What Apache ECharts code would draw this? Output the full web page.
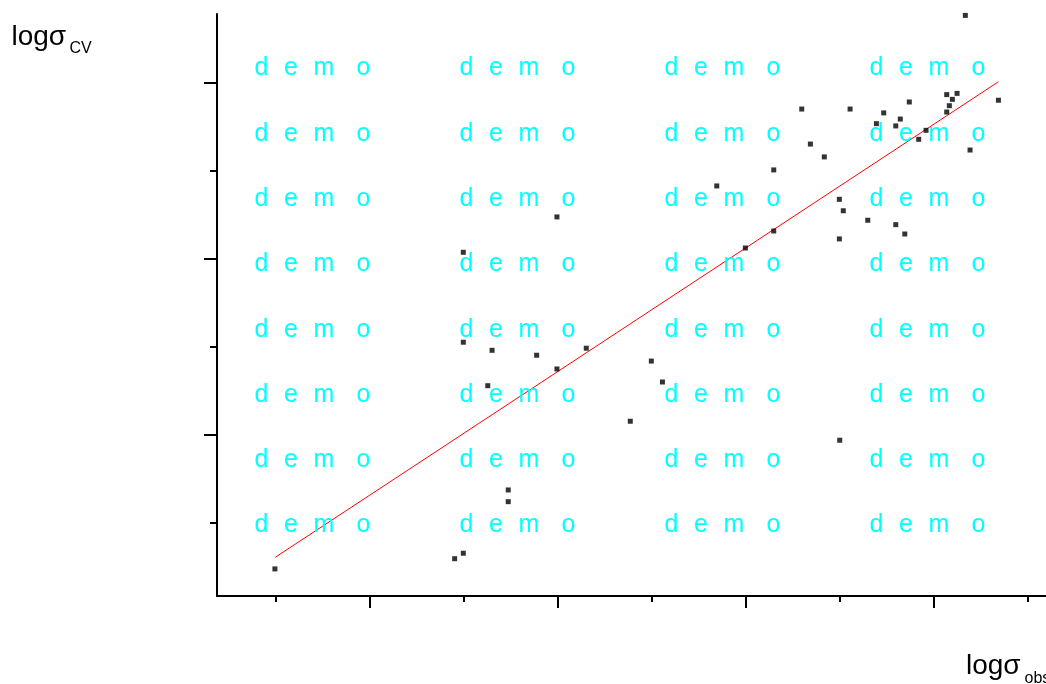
<!DOCTYPE html>
<html>
<head>
<meta charset="utf-8">
<script src="https://cdn.jsdelivr.net/npm/echarts@6/dist/echarts.min.js"></script>
<style>
  html, body { margin: 0; padding: 0; background: #ffffff; }
  #chart { width: 1046px; height: 684px; }
</style>
</head>
<body>
<div id="chart"></div>
<script>
// ---- data ----
var obsX = [-0.502, 0.454, 0.5, 0.739, 0.739, 0.5, 0.5, 0.653, 0.630, 0.890,
            0.998, 1.154, 0.998, 1.388, 1.5, 1.559, 1.848, 2.0, 2.151, 2.151,
            2.3, 2.346, 2.420, 2.5, 2.521, 2.5, 2.502, 2.557, 2.651, 2.697,
            2.736, 2.8, 2.8, 2.824, 2.848, 2.872, 2.922, 2.961, 3.071, 3.071,
            3.085, 3.101, 3.126, 3.170, 3.195, 3.346];
var cvY  = [-0.761, -0.703, -0.672, -0.3125, -0.379, 1.038, 0.527, 0.481, 0.280, 0.453,
            0.375, 0.493, 1.239, 0.078, 0.420, 0.301, 1.415, 1.0625, 1.159, 1.506,
            1.852, 1.653, 1.580, 1.339, 1.274, 1.114, -0.030, 1.852, 1.220, 1.769,
            1.830, 1.195, 1.756, 1.795, 1.142, 1.892, 1.680, 1.731, 1.934, 1.835,
            1.871, 1.907, 1.941, 2.384, 1.619, 1.902];
var fitX = [-0.5, 3.346];
var fitY = [-0.695, 2.007];
var xMajorTicks = [0, 1, 2, 3];
var xMinorTicks = [-0.5, 0.5, 1.5, 2.5, 3.5];
var yMajorTicks = [0, 1, 2];
var yMinorTicks = [-0.5, 0.5, 1.5];
var xRange = [-0.810, 3.599];
var yRange = [-0.915, 2.392];
var watermarkWord = ['d', 'e', 'm', 'o'];

// ---- build ----
var points = obsX.map(function (x, i) { return [x, cvY[i]]; });
var fitLine = fitX.map(function (x, i) { return [x, fitY[i]]; });

var graphics = [];
var letterOffsets = [0, 29.5, 59, 102];
for (var r = 0; r < 8; r++) {
  for (var c = 0; c < 4; c++) {
    for (var k = 0; k < 4; k++) {
      graphics.push({
        type: 'text', z: 100, silent: true,
        x: 254.5 + 205 * c + letterOffsets[k],
        y: 68.5 + 65.3 * r,
        style: {
          text: watermarkWord[k], fill: '#00FFFF',
          font: '25px "Liberation Sans", Arial, sans-serif',
          verticalAlign: 'middle', align: 'left'
        }
      });
    }
  }
}
function label(text, x, y, size) {
  return {
    type: 'text', z: 100, x: x, y: y,
    style: { text: text, fill: '#000000',
      font: size + 'px "Liberation Sans", Arial, sans-serif',
      verticalAlign: 'middle', align: 'left' }
  };
}
graphics.push(label('logσ', 11.5, 37, 28));
graphics.push(label('CV', 69.5, 49, 16));
graphics.push(label('logσ', 966, 666, 28));
graphics.push(label('obs', 1024.5, 678.5, 16));

function xAxisDef(ticks, len, showLine) {
  return {
    type: 'value', position: 'bottom', min: xRange[0], max: xRange[1],
    axisLine: { show: showLine, onZero: false, lineStyle: { color: '#000', width: 2 } },
    axisTick: { show: true, length: len, customValues: ticks, lineStyle: { color: '#000', width: 2 } },
    axisLabel: { show: false },
    splitLine: { show: false }
  };
}
function yAxisDef(ticks, len, showLine) {
  return {
    type: 'value', position: 'left', min: yRange[0], max: yRange[1],
    axisLine: { show: showLine, onZero: false, lineStyle: { color: '#000', width: 2 } },
    axisTick: { show: true, length: len, customValues: ticks, lineStyle: { color: '#000', width: 2 } },
    axisLabel: { show: false },
    splitLine: { show: false }
  };
}

var chart = echarts.init(document.getElementById('chart'), null, { renderer: 'canvas' });
chart.setOption({
  animation: false,
  backgroundColor: '#ffffff',
  grid: { left: 217, top: 14, right: 0, bottom: 88, containLabel: false },
  xAxis: [xAxisDef(xMajorTicks, 12, true), xAxisDef(xMinorTicks, 6, false)],
  yAxis: [yAxisDef(yMajorTicks, 13, true), yAxisDef(yMinorTicks, 7, false)],
  series: [
    {
      type: 'line', data: fitLine, xAxisIndex: 0, yAxisIndex: 0,
      showSymbol: false, symbol: 'none', silent: true,
      lineStyle: { color: '#ff0000', width: 1 }, z: 2
    },
    {
      type: 'scatter', data: points, xAxisIndex: 0, yAxisIndex: 0,
      symbol: 'rect', symbolSize: [5, 5],
      itemStyle: { color: '#000000' }, z: 3
    }
  ],
  graphic: graphics
});
</script>
</body>
</html>
